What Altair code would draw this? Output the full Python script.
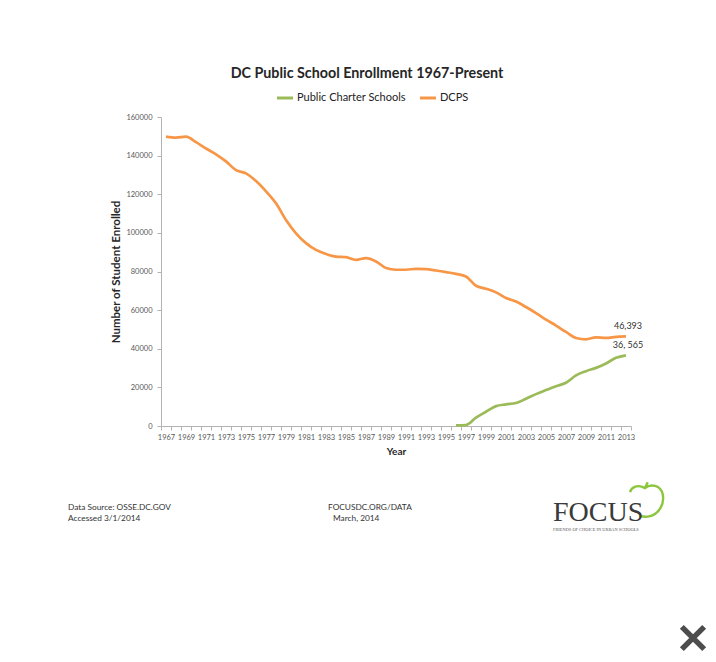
import altair as alt
import pandas as pd

years = list(range(1967, 2014))
dcps = [149800, 149300, 149800, 147000, 143700, 140700, 137000, 132500, 130800, 126800,
        121500, 115300, 106700, 99800, 94700, 91200, 89100, 87700, 87400, 86000,
        86900, 85200, 81800, 80900, 80900, 81400, 81200, 80500, 79700, 78800,
        77400, 72600, 71100, 69200, 66300, 64500, 61600, 58500, 55100, 52000,
        48700, 45600, 44900, 45900, 45600, 46100, 46393]
charter_years = list(range(1996, 2014))
charter = [300, 500, 4300, 7400, 10300, 11200, 11900, 14100, 16500, 18600,
           20600, 22400, 26200, 28400, 30100, 32400, 35300, 36565]

series_names = ["Public Charter Schools", "DCPS"]
series_colors = ["#9bbb59", "#f79646"]
end_labels = {"DCPS": "46,393", "Public Charter Schools": "36, 565"}
y_ticks = [0, 20000, 40000, 60000, 80000, 100000, 120000, 140000, 160000]

rows = [{"Year": y, "Series": "DCPS", "Value": v} for y, v in zip(years, dcps)]
rows += [{"Year": y, "Series": "Public Charter Schools", "Value": v} for y, v in zip(charter_years, charter)]
df = pd.DataFrame(rows)

last = df[df["Year"] == years[-1]].copy()
last["Label"] = last["Series"].map(end_labels)

FONT = "Lato"
tick_vals = [y - 0.5 for y in years] + [years[-1] + 0.5]

x_enc = alt.X("Year:Q",
              scale=alt.Scale(domain=[years[0] - 0.5, years[-1] + 0.5], nice=False, zero=False),
              axis=alt.Axis(values=tick_vals, tickCount=200, labelOffset=5, labelOverlap=False,
                            labelFlush=False,
                            labelExpr="(datum.value + 0.5) % 2 == 1 ? format(datum.value + 0.5, 'd') : ''",
                            title="Year", titlePadding=6, grid=False))
y_enc = alt.Y("Value:Q",
              scale=alt.Scale(domain=[0, 160000], nice=False),
              axis=alt.Axis(values=y_ticks, tickCount=50, labelOverlap=False, labelFlush=False,
                            format="d", title="Number of Student Enrolled", titleFontSize=11.5,
                            labelPadding=5, titlePadding=4, grid=False))

lines = alt.Chart(df).mark_line(strokeWidth=2.7, interpolate="monotone").encode(
    x=x_enc, y=y_enc,
    color=alt.Color("Series:N",
                    scale=alt.Scale(domain=series_names, range=series_colors),
                    legend=alt.Legend(title=None, orient="none", direction="horizontal",
                                      legendX=114, legendY=-29, symbolType="stroke",
                                      symbolSize=260, symbolStrokeWidth=3,
                                      labelFont=FONT, labelFontSize=11, labelColor="#222222",
                                      labelOffset=2, columnPadding=7, symbolOffset=0)),
    detail="Series:N",
)

labels = alt.Chart(last).mark_text(font=FONT, fontSize=9, color="#333333", dy=-5, dx=2,
                                   baseline="bottom").encode(
    x="Year:Q", y="Value:Q", text="Label:N")

one = pd.DataFrame({"a": [0]})

def note(txt, x, y, size=8.3, font=FONT, color="#333333", weight="normal", baseline="middle"):
    return alt.Chart(one).mark_text(text=txt, align="left", baseline=baseline, font=font,
                                    fontSize=size, color=color, fontWeight=weight).encode(
        x=alt.value(x), y=alt.value(y))

footer = [
    note("Data Source: OSSE.DC.GOV", -93, 391),
    note("Accessed 3/1/2014", -93, 402),
    note("FOCUSDC.ORG/DATA", 167, 391),
    note("March, 2014", 172, 402),
    note("FOCUS", 392, 404, size=28, font="Liberation Serif", color="#3a3a3a", baseline="alphabetic"),
    note("FRIENDS OF CHOICE IN URBAN SCHOOLS", 392, 413, size=4.4, font="Liberation Serif", color="#555555"),
]

apple_path = ("M -0.94 -0.47 C -0.85 -0.75 -0.5 -0.95 -0.06 -0.7 "
              "C 0.3 -1 0.85 -0.85 0.98 -0.35 C 1.1 0.2 0.8 0.85 0.12 0.98 "
              "C -0.1 1 -0.25 0.98 -0.35 0.92 M -0.06 -0.7 L 0.1 -1.05")
apple = alt.Chart(one).mark_point(shape=apple_path, size=1156, stroke="#8cc63e",
                                  strokeWidth=2.4, filled=False, opacity=1).encode(
    x=alt.value(485), y=alt.value(383))

close_x = alt.Chart(one).mark_point(shape="M -1 -1 L 1 1 M 1 -1 L -1 1", size=500,
                                    stroke="#4d4d4d", strokeWidth=5.5, filled=False,
                                    opacity=1, strokeCap="butt").encode(
    x=alt.value(532), y=alt.value(521))

chart = alt.layer(lines, labels, apple, close_x, *footer).properties(
    width=470, height=309,
    autosize=alt.AutoSizeParams(type="none"),
    padding={"left": 153, "top": 109, "right": 77, "bottom": 228},
    background="white",
    title=alt.TitleParams("DC Public School Enrollment 1967-Present", font=FONT, fontSize=14.3,
                          fontWeight="bold", color="#262626", anchor="middle", dx=-29, offset=7),
).configure_view(stroke=None).configure_axis(
    domainColor="#b3b3b3", tickColor="#b3b3b3", tickSize=4, labelFont=FONT, labelFontSize=7.5,
    labelColor="#595959", titleFont=FONT, titleFontSize=10, titleFontWeight="bold", titleColor="#262626",
    labelPadding=3,
)

chart.save("out.html", embed_options={"renderer": "svg", "actions": False})
